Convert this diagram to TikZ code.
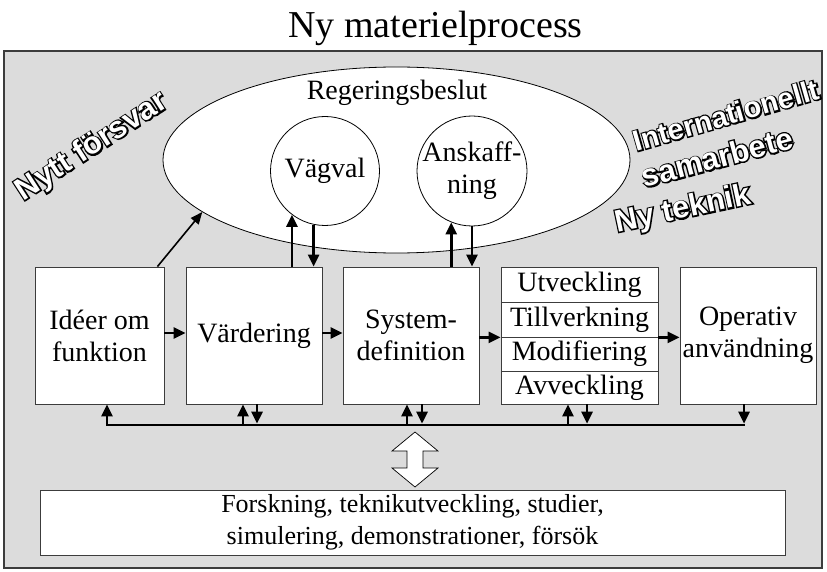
\documentclass[tikz,border=0pt]{standalone}
\usepackage{fontspec}
\setmainfont{Liberation Serif}
\newfontfamily\outfont{Liberation Sans Bold}
\newfontfamily\outthick{Liberation Sans Bold}[FakeBold=9]
\usetikzlibrary{arrows.meta,shapes.geometric,calc}
\definecolor{bggray}{RGB}{220,220,220}
\definecolor{edge}{RGB}{60,60,60}
\newcommand{\outlined}[1]{\rlap{\outthick\color{black}#1}#1}
\tikzset{
  txt/.style={font=\fontsize{28}{32}\selectfont, align=center, inner sep=0pt},
  box/.style={txt, draw=edge, line width=0.8pt, fill=white, minimum height=137pt},
  row/.style={txt, draw=edge, line width=0.8pt, fill=white, minimum width=157pt},
  bubble/.style={txt, circle, draw=black, line width=0.8pt, fill=white},
  outl/.style={font=\outfont\fontsize{31}{32}\selectfont, text=white, inner sep=0pt},
  arr/.style={line width=2.6pt, -{Triangle[length=12pt,width=11pt]}},
  thinarr/.style={line width=1.6pt, -{Triangle[length=12pt,width=10pt]}},
  busline/.style={line width=2.6pt, line cap=rect},
}
\begin{document}
\begin{tikzpicture}[x=1pt,y=-1pt]
\useasboundingbox (0,0) rectangle (827,572);
% title
\node[txt, font=\fontsize{38}{40}\selectfont, anchor=base west] (title) at (288,38) {Ny materielprocess};
% background frame
\draw[fill=bggray, draw=edge, line width=1.8pt] (4,51) rectangle (822,568);
% outlined words
\node[outl, rotate=33] (nf) at (92,147) {\outlined{Nytt försvar}};
\node[outl, rotate=16, font=\outfont\fontsize{29}{32}\selectfont] (intl) at (726,115) {\outlined{Internationellt}};
\node[outl, rotate=15] (sam) at (717,157) {\outlined{samarbete}};
\node[outl, rotate=12] (nyt) at (683,210) {\outlined{Ny teknik}};
% ellipse and circles
\node[ellipse, draw=black, line width=0.8pt, fill=white, minimum width=467pt, minimum height=186pt, inner sep=0pt] (reg) at (396.5,160) {};
\node[txt] (regt) at (397,93) {Regeringsbeslut};
\node[bubble, minimum size=109pt] (vag) at (325,171) {Vägval};
\node[bubble, minimum size=110pt, inner sep=-5pt] (ansk) at (472,171) {Anskaff-\\ning};
% boxes
\node[box, minimum width=129pt] (ideer) at (99.5,335.5) {Idéer om\\funktion};
\node[box, minimum width=136pt] (vard) at (254,335.5) {Värdering};
\node[box, minimum width=136pt] (sys) at (411,335.5) {System-\\definition};
\node[row, minimum height=35pt] (ut) at (579.5,284.5) {Utveckling};
\node[row, minimum height=35pt] (till) at (579.5,319.5) {Tillverkning};
\node[row, minimum height=34pt] (mod) at (579.5,354) {Modifiering};
\node[row, minimum height=33pt] (avv) at (579.5,387.5) {Avveckling};
\node[box, minimum width=136pt] (oper) at (748,335.5) {Operativ\\användning};
\node[txt, font=\fontsize{26}{32}\selectfont, draw=edge, line width=0.8pt, fill=white, minimum width=745pt, minimum height=65pt] (forsk) at (412.5,522.5)
  {Forskning, teknikutveckling, studier,\\simulering, demonstrationer, försök};
% arrows to the ellipse and circles
\draw[thinarr] ($(ideer.north east)+(-7,0)$) -- (reg.195.4);
\draw[arr] (vag.-127.3 |- vard.north) -- (vag.-127.3);
\draw[arr] (vag.-102.7) -- (vag.-102.7 |- vard.north);
\draw[arr] (ansk.-112.4 |- sys.north) -- (ansk.-112.4);
\draw[arr] (ansk.-90) -- (ansk.-90 |- sys.north);
% horizontal flow
\coordinate (r1) at (0,333);
\draw[arr] (ideer.east |- r1) -- (vard.west |- r1);
\draw[arr] (vard.east |- r1) -- (sys.west |- r1);
\draw[arr] (sys.east |- till.south) -- (till.south west);
\draw[arr] (till.south east) -- (oper.west |- till.south);
% bus
\coordinate (bl) at (107,425);
\coordinate (br) at (744,425);
\coordinate (t2) at (243,425);
\coordinate (t3) at (257,425);
\coordinate (t4) at (407,425);
\coordinate (t5) at (422,425);
\coordinate (t6) at (568,425);
\coordinate (t7) at (587,425);
\draw[busline] (bl) -- (br);
\draw[arr] (bl) -- (bl |- ideer.south);
\draw[arr] (t2) -- (t2 |- vard.south);
\draw[arr, shorten >=1.3pt] (t3 |- vard.south) -- (t3);
\draw[arr] (t4) -- (t4 |- sys.south);
\draw[arr, shorten >=1.3pt] (t5 |- sys.south) -- (t5);
\draw[arr] (t6) -- (t6 |- avv.south);
\draw[arr, shorten >=1.3pt] (t7 |- avv.south) -- (t7);
\draw[arr, shorten >=1.3pt] (br |- oper.south) -- (br);
% hollow double arrow
\draw[fill=white, draw=black, line width=0.7pt]
  (415,432) -- (438,451) -- (423,451) -- (423,468) -- (438,468) -- (415,487)
  -- (392,468) -- (407,468) -- (407,451) -- (392,451) -- cycle;
\end{tikzpicture}
\end{document}
